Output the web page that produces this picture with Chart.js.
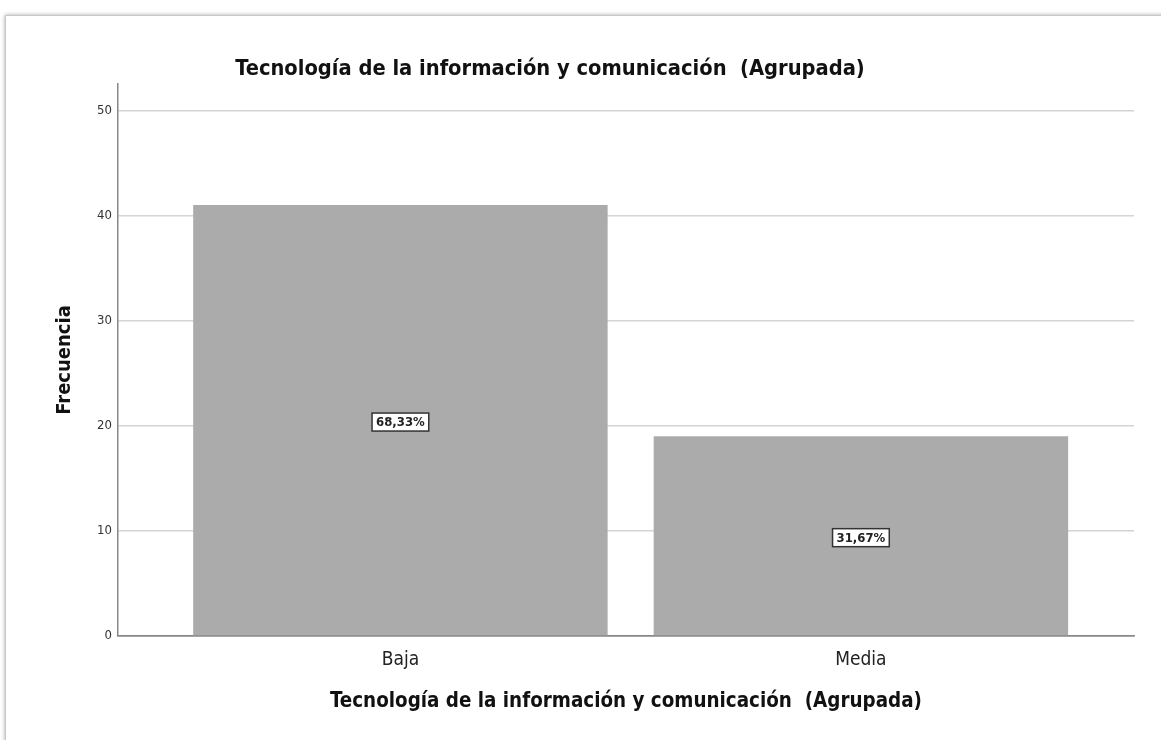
<!DOCTYPE html>
<html>
<head>
<meta charset="utf-8">
<script src="https://cdn.jsdelivr.net/npm/chart.js@4"></script>
<style>
  html, body { margin: 0; padding: 0; background: #fff; overflow: hidden; }
  body { width: 1161px; height: 740px; position: relative; }
  #marco {
    position: absolute; left: 5px; top: 15px; width: 1200px; height: 800px;
    border: 1px solid #c8c8c8; box-shadow: 0 0 4px rgba(0,0,0,0.35); background: #fff;
  }
  #lienzo { position: absolute; left: -60px; top: 0; width: 1221px; height: 740px; }
</style>
</head>
<body>
<div id="marco"></div>
<div id="lienzo"><canvas id="grafico"></canvas></div>
<script>
// datos
const categorias = ["Baja", "Media"];
const frecuencias = [41, 19];
const ticksY = [0, 10, 20, 30, 40, 50];
const titulo = "Tecnología de la información y comunicación  (Agrupada)";

const fuente = "'Liberation Sans Narrow', 'DejaVu Sans Condensed', 'Liberation Sans', sans-serif";
const total = frecuencias.reduce((a, b) => a + b, 0);

// etiquetas de porcentaje en el centro de cada barra
const etiquetas = {
  id: 'etiquetas',
  afterDatasetsDraw(chart) {
    const c = chart.ctx;
    chart.getDatasetMeta(0).data.forEach((barra, i) => {
      const p = barra.getProps(['x', 'y', 'base'], true);
      const texto = (frecuencias[i] / total * 100).toFixed(2).replace('.', ',') + '%';
      c.save();
      c.font = "600 13px " + fuente;
      const w = c.measureText(texto).width + 8;
      const h = 18;
      const cy = (p.y + p.base) / 2 + 2;
      c.fillStyle = '#fff';
      c.fillRect(p.x - w / 2, cy - h / 2, w, h);
      c.strokeStyle = '#333';
      c.lineWidth = 1.5;
      c.strokeRect(p.x - w / 2, cy - h / 2, w, h);
      c.fillStyle = '#222';
      c.textAlign = 'center';
      c.textBaseline = 'middle';
      c.fillText(texto, p.x, cy + 1);
      c.restore();
    });
  }
};

var ctx = document.getElementById('grafico').getContext('2d');

grafico = new Chart(ctx, {
  type: 'bar',
  data: {
    datasets: [{
      data: frecuencias.map((v, i) => ({ x: i, y: v })),
      backgroundColor: '#ababab',
      borderWidth: 0,
      barPercentage: 0.9,
      categoryPercentage: 1
    }]
  },
  options: {
    responsive: true,
    maintainAspectRatio: false,
    animation: false,
    layout: { padding: { left: 26, right: 27, top: 56, bottom: 22 } },
    plugins: {
      legend: { display: false },
      tooltip: { enabled: false },
      title: {
        display: true,
        text: titulo,
        color: '#111',
        font: { family: fuente, size: 21.7, weight: 'bold' },
        padding: { top: 0, bottom: 2 }
      }
    },
    scales: {
      x: {
        type: 'linear',
        offset: false,
        min: -0.6135,
        max: 1.593,
        afterBuildTicks: (s) => { s.ticks = categorias.map((c, i) => ({ value: i })); },
        ticks: {
          callback: (v) => categorias[v],
          color: '#222',
          padding: 13,
          autoSkip: false,
          maxRotation: 0,
          font: { family: fuente, size: 19 }
        },
        grid: { drawOnChartArea: false, drawTicks: false, offset: false },
        border: { color: '#888', width: 1.5 },
        title: {
          display: true,
          text: titulo,
          color: '#111',
          font: { family: fuente, size: 20.4, weight: 'bold' },
          padding: { top: 4.8, bottom: 4 }
        }
      },
      y: {
        min: 0,
        max: 52.5,
        afterBuildTicks: (s) => { s.ticks = ticksY.map(v => ({ value: v })); },
        ticks: {
          color: '#333',
          padding: 6,
          font: { family: fuente, size: 13 }
        },
        grid: {
          drawTicks: false,
          lineWidth: 1.5,
          color: (c) => c.tick && c.tick.value === 0 ? '#888' : '#d4d4d4'
        },
        border: { color: '#888', width: 1.5 },
        title: {
          display: true,
          text: 'Frecuencia',
          color: '#111',
          font: { family: fuente, size: 20, weight: 'bold' },
          padding: { top: 87, bottom: 14 }
        }
      }
    }
  },
  plugins: [etiquetas]
});
</script>
</body>
</html>
